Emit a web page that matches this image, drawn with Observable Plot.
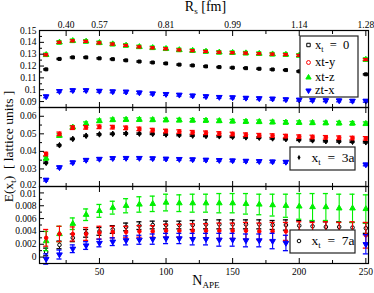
<!DOCTYPE html>
<html><head><meta charset="utf-8">
<script src="https://cdn.jsdelivr.net/npm/d3@7"></script>
<script src="https://cdn.jsdelivr.net/npm/@observablehq/plot@0.6"></script>
<style>
body{margin:0;background:#fff;}
#chart{position:relative;width:374px;height:293px;font-family:"Liberation Serif","Times New Roman",serif;}
#chart svg{position:absolute;left:0;top:0;}
</style></head><body><div id="chart"></div>
<script>
// ---------- data ----------
const nApe = [10,20,30,40,50,60,70,80,90,100,110,120,130,140,150,160,170,180,190,200,210,220,230,240,250];
const rsTickN = [25,50,100,150,200,250];
const rsTickLabels = ["0.40","0.57","0.81","0.99","1.14","1.28"];
const rsMinorN = [75,125,175,225];
const nTicks = [50,100,150,200,250];
const nMinor = [25,75,125,175,225];

// panel x_t = 0
const xt0_black = [0.1172,0.1260,0.1273,0.1273,0.1265,0.1258,0.1248,0.1238,0.1230,0.1222,0.1212,0.1205,0.1197,0.1191,0.1186,0.1182,0.1177,0.1171,0.1166,0.1155,null,null,null,null,0.1130];
const xt0_red   = [0.1295,0.1400,0.1413,0.1408,0.1396,0.1385,0.1374,0.1362,0.1354,0.1346,0.1336,0.1330,0.1323,0.1316,0.1313,0.1309,0.1305,0.1300,0.1297,0.1290,null,null,null,null,0.1255];
const xt0_green = [0.1295,0.1400,0.1413,0.1408,0.1396,0.1385,0.1374,0.1362,0.1354,0.1346,0.1336,0.1330,0.1323,0.1316,0.1313,0.1309,0.1305,0.1300,0.1297,0.1290,null,null,null,null,0.1255];
const xt0_blue  = [0.0943,0.0988,0.0995,0.0995,0.0990,0.0985,0.0983,0.0976,0.0968,0.0963,0.0957,0.0950,0.0944,0.0938,0.0935,0.0931,0.0927,0.0924,0.0918,0.0915,0.0912,0.0910,0.0909,0.0906,0.0906];
const xt0_err = {black:0.0005, red:0.0008, green:0.0014, blue:0.0011};

// panel x_t = 3a
const xt3_black = [0.0335,0.0435,0.0471,0.0489,0.0497,0.0500,0.0502,0.0501,0.0500,0.0496,0.0493,0.0490,0.0488,0.0486,0.0483,0.0480,0.0478,0.0474,0.0470,0.0466,0.0463,0.0458,0.0457,0.0455,0.0452];
const xt3_red   = [0.0385,0.0500,0.0535,0.0537,0.0540,0.0538,0.0534,0.0528,0.0521,0.0516,0.0513,0.0509,0.0506,0.0502,0.0499,0.0495,0.0492,0.0490,0.0487,0.0484,0.0482,0.0480,0.0478,0.0476,0.0474];
const xt3_green = [0.0360,0.0490,0.0537,0.0558,0.0574,0.0580,0.0581,0.0581,0.0580,0.0579,0.0578,0.0577,0.0576,0.0574,0.0572,0.0570,0.0569,0.0567,0.0565,0.0564,0.0563,0.0562,0.0561,0.0560,0.0558];
const xt3_blue  = [0.0238,0.0309,0.0337,0.0351,0.0357,0.0361,0.0362,0.0362,0.0360,0.0358,0.0356,0.0354,0.0352,0.0350,0.0348,0.0346,0.0344,0.0342,0.0340,null,null,null,null,null,0.0325];
const xt3_err = {black:0.0004, red:0.0010, green:0.0010, blue:0.0007};

// panel x_t = 7a
const xt7_black = [0.0008,0.0019,0.0030,0.0037,0.0040,0.0043,0.0047,0.0049,0.0050,0.0050,0.0050,0.0050,0.0051,0.0051,0.0051,0.0051,0.0051,0.0050,0.0050,0.0049,0.0048,0.0047,0.0047,0.0046,0.0045];
const xt7_black_err = [0.0006,0.0006,0.0006,0.0006,0.0006,0.0006,0.0006,0.0006,0.0006,0.0006,0.0006,0.0007,0.0007,0.0007,0.0007,0.0007,0.0007,0.0007,0.0008,0.0008,0.0008,0.0008,0.0008,0.0008,0.0008];
const xt7_red   = [0.0030,0.0036,0.0036,0.0036,0.0038,0.0039,0.0039,0.0040,0.0040,0.0041,0.0041,0.0041,0.0041,0.0041,0.0041,0.0041,0.0040,0.0040,0.0040,0.0040,0.0039,0.0039,0.0037,0.0037,0.0034];
const xt7_red_err = [0.0013,0.0012,0.0011,0.0010,0.0010,0.0009,0.0009,0.0009,0.0009,0.0010,0.0010,0.0011,0.0011,0.0012,0.0012,0.0013,0.0013,0.0014,0.0014,0.0015,0.0015,0.0016,0.0017,0.0018,0.0020];
const xt7_green = [0.0025,0.0036,0.0052,0.0066,0.0072,0.0077,0.0080,0.0082,0.0083,0.0085,0.0084,0.0084,0.0084,0.0084,0.0084,0.0083,0.0082,0.0081,0.0080,0.0079,0.0078,0.0078,0.0076,0.0076,0.0075];
const xt7_green_err = [0.0015,0.0012,0.0009,0.0009,0.0010,0.0010,0.0011,0.0012,0.0012,0.0013,0.0013,0.0014,0.0014,0.0015,0.0015,0.0016,0.0016,0.0017,0.0018,0.0020,0.0021,0.0021,0.0022,0.0022,0.0022];
const xt7_blue  = [-0.0003,0.0004,0.0013,0.0018,0.0022,0.0024,0.0026,0.0027,0.0028,0.0029,0.0029,0.0028,0.0028,0.0027,0.0027,0.0026,0.0026,0.0025,0.0022,null,null,null,null,null,0.0020];
const xt7_blue_err = [0.0008,0.0007,0.0006,0.0006,0.0006,0.0006,0.0007,0.0007,0.0008,0.0008,0.0008,0.0009,0.0009,0.0010,0.0010,0.0010,0.0010,0.0012,0.0012,null,null,null,null,null,0.0015];

// ---------- helpers ----------
const FONT = '"Liberation Serif","Times New Roman",serif';
const COLORS = {black:"#000000", red:"#ff0000", green:"#00f000", blue:"#0000ff"};
const triDown = {draw(ctx, size){ const y = -Math.sqrt(size/(Math.sqrt(3)*3)); ctx.moveTo(0,-2*y); ctx.lineTo(-Math.sqrt(3)*y, y); ctx.lineTo(Math.sqrt(3)*y, y); ctx.closePath(); }};
const triUp = {draw(ctx, size){ const y = -Math.sqrt(size/(Math.sqrt(3)*3)); ctx.moveTo(0,2*y); ctx.lineTo(-Math.sqrt(3)*y, -y); ctx.lineTo(Math.sqrt(3)*y, -y); ctx.closePath(); }};
function rows(vals, errs){
  return nApe.map((n,i)=>({n, v: vals[i], e: Array.isArray(errs) ? errs[i] : errs})).filter(d=>d.v!=null);
}
const CAP = 1.9; // half width of error caps in N_APE units
function seriesMarks(data, color, symbol, r, filled){
  return [
    Plot.ruleX(data, {x:"n", y1:d=>d.v-d.e, y2:d=>d.v+d.e, stroke:color, strokeWidth:1.1}),
    Plot.ruleY(data, {y:d=>d.v+d.e, x1:d=>d.n-CAP, x2:d=>d.n+CAP, stroke:color, strokeWidth:1.3}),
    Plot.ruleY(data, {y:d=>d.v-d.e, x1:d=>d.n-CAP, x2:d=>d.n+CAP, stroke:color, strokeWidth:1.3}),
    Plot.dot(data, {x:"n", y:"v", symbol, r, fill: filled ? color : "white", stroke: color, strokeWidth: 1})
  ];
}
function fmt(d){ return String(+d.toFixed(4)); }

function panel({marginTop, marginBottom, domain, yMajor, yMinor, yShift, series, topMajor, topMinor, topLabels, bottomLabels}){
  const marks = [];
  for (const s of series) marks.push(...s);
  marks.push(Plot.frame({stroke:"black", strokeWidth:1.2}));
  // y ticks (inward)
  marks.push(Plot.axisY({anchor:"left", ticks:yMajor, tickSize:-5, fill:"none", label:null}));
  marks.push(Plot.axisY({anchor:"left", ticks:yMinor, tickSize:-3, fill:"none", label:null}));
  const plain = yMajor.filter(t => !(yShift && t in yShift));
  marks.push(Plot.axisY({anchor:"left", ticks:plain, tickSize:0, tickPadding:3, tickFormat:fmt, fontSize:9.5, label:null}));
  if (yShift) for (const t of Object.keys(yShift)) {
    marks.push(Plot.axisY({anchor:"left", ticks:[+t], tickSize:0, tickPadding:3, tickFormat:fmt, fontSize:9.5, dy:yShift[t], label:null}));
  }
  // x ticks top
  marks.push(Plot.axisX({anchor:"top", ticks:topMajor, tickSize:-5, fill:"none", label:null}));
  marks.push(Plot.axisX({anchor:"top", ticks:topMinor, tickSize:-3, fill:"none", label:null}));
  // x ticks bottom
  marks.push(Plot.axisX({anchor:"bottom", ticks:nTicks, tickSize:-5, fill:"none", label:null}));
  marks.push(Plot.axisX({anchor:"bottom", ticks:nMinor, tickSize:-3, fill:"none", label:null}));
  if (topLabels) marks.push(Plot.axisX({anchor:"top", ticks:rsTickN, tickSize:0, tickPadding:3, tickFormat:d=>rsTickLabels[rsTickN.indexOf(d)], fontSize:9.5, label:null}));
  if (bottomLabels) marks.push(Plot.axisX({anchor:"bottom", ticks:nTicks, tickSize:0, tickPadding:5, tickFormat:d=>String(d), fontSize:9.5, label:null}));
  return Plot.plot({
    width:374, height:293, marginLeft:39, marginRight:6, marginTop, marginBottom,
    x:{domain:[5,252]}, y:{domain},
    style:{background:"transparent", overflow:"visible", fontFamily:FONT, color:"black"},
    marks
  });
}

const chart = document.getElementById("chart");

const p1 = panel({
  marginTop:30, marginBottom:186, domain:[0.085,0.15],
  yMajor:[0.09,0.10,0.11,0.12,0.13,0.14,0.15], yMinor:[0.095,0.105,0.115,0.125,0.135,0.145],
  topMajor:rsTickN, topMinor:rsMinorN, topLabels:true,
  series:[
    seriesMarks(rows(xt0_black, xt0_err.black), COLORS.black, "square", 1.7, true),
    seriesMarks(rows(xt0_green, xt0_err.green), COLORS.green, triUp, 2.1, true),
    seriesMarks(rows(xt0_red, xt0_err.red), COLORS.red, "circle", 1.2, true),
    seriesMarks(rows(xt0_blue, xt0_err.blue), COLORS.blue, triDown, 2.1, true)
  ]
});
const p2 = panel({
  marginTop:107, marginBottom:107, domain:[0.02,0.065],
  yMajor:[0.02,0.03,0.04,0.05,0.06], yMinor:[0.025,0.035,0.045,0.055], yShift:{"0.02":-1.5},
  topMajor:nTicks, topMinor:nMinor,
  series:[
    seriesMarks(rows(xt3_black, xt3_err.black), COLORS.black, "diamond", 1.7, true),
    seriesMarks(rows(xt3_green, xt3_err.green), COLORS.green, triUp, 2.1, true),
    seriesMarks(rows(xt3_red, xt3_err.red), COLORS.red, "circle", 1.8, true),
    seriesMarks(rows(xt3_blue, xt3_err.blue), COLORS.blue, triDown, 2.1, true)
  ]
});
const p3 = panel({
  marginTop:186, marginBottom:30, domain:[-0.001,0.011],
  yMajor:[0,0.002,0.004,0.006,0.008,0.01], yMinor:[0.001,0.003,0.005,0.007,0.009], yShift:{"0.01":1.5},
  topMajor:nTicks, topMinor:nMinor, bottomLabels:true,
  series:[
    seriesMarks(rows(xt7_black, xt7_black_err), COLORS.black, "circle", 1.8, false),
    seriesMarks(rows(xt7_green, xt7_green_err), COLORS.green, triUp, 2.1, true),
    seriesMarks(rows(xt7_red, xt7_red_err), COLORS.red, "circle", 1.8, true),
    seriesMarks(rows(xt7_blue, xt7_blue_err), COLORS.blue, triDown, 2.1, true)
  ]
});
chart.append(p1, p2, p3);

// ---------- overlay: titles and legends ----------
const ov = d3.select(chart).append("svg").attr("width",374).attr("height",293)
  .style("font-family", FONT).style("overflow","visible");

function subText(g, x, y, size, parts, anchor){
  const t = g.append("text").attr("x",x).attr("y",y).attr("font-size",size)
    .attr("text-anchor",anchor||"start").attr("fill","black").attr("xml:space","preserve");
  let prevSub = false;
  for (const [s, sub] of parts){
    const dy = sub ? (prevSub ? 0 : 3) : (prevSub ? -3 : 0);
    t.append("tspan").attr("dy",dy).attr("font-size", sub ? size*0.65 : size).text(s);
    prevSub = sub;
  }
  return t;
}
// top axis title
subText(ov, 205.5, 11, 14, [["R",false],["s",true],[" [fm]",false]], "middle");
// bottom axis title
subText(ov, 206, 285, 14, [["N",false],["APE",true]], "middle");
// y axis title
const yg = ov.append("g").attr("transform","translate(12.5,146.5) rotate(-90)");
subText(yg, 0, 0, 13.5, [["E(x",false],["t",true],[")  [ lattice units ]",false]], "middle");

// legend 1
const sym = (type, size) => d3.symbol().type(type).size(size)();
ov.append("rect").attr("x",300).attr("y",36).attr("width",58).attr("height",61)
  .attr("fill","white").attr("stroke","#222").attr("stroke-width",1.2);
const leg1 = [
  {type:d3.symbolSquare, fill:"white", stroke:COLORS.black, y:45, label:[["x",false],["t",true],["  =  0",false]]},
  {type:d3.symbolCircle, fill:"white", stroke:COLORS.red, y:62.5, label:[["xt-y",false]]},
  {type:triUp, fill:COLORS.green, stroke:COLORS.green, y:77.5, label:[["xt-z",false]]},
  {type:triDown, fill:COLORS.blue, stroke:COLORS.blue, y:90.5, label:[["zt-x",false]]}
];
for (const e of leg1){
  ov.append("path").attr("d", sym(e.type, 12)).attr("transform",`translate(308.5,${e.y})`)
    .attr("fill",e.fill).attr("stroke",e.stroke).attr("stroke-width",1);
  subText(ov, 315, e.y+3.5, 12.5, e.label);
}
// legend 2
ov.append("rect").attr("x",290).attr("y",147).attr("width",65).attr("height",23)
  .attr("fill","white").attr("stroke","#222").attr("stroke-width",1.2);
ov.append("path").attr("d", sym(d3.symbolDiamond, 8)).attr("transform","translate(299,157.5)").attr("fill","black");
subText(ov, 311.5, 161.5, 13.5, [["x",false],["t",true],["  =  3a",false]]);
// legend 3
ov.append("rect").attr("x",290).attr("y",230).attr("width",65).attr("height",23)
  .attr("fill","white").attr("stroke","#222").attr("stroke-width",1.2);
ov.append("circle").attr("cx",299).attr("cy",241).attr("r",1.8).attr("fill","white").attr("stroke","black").attr("stroke-width",1);
subText(ov, 311.5, 244.5, 13.5, [["x",false],["t",true],["  =  7a",false]]);
</script></body></html>
